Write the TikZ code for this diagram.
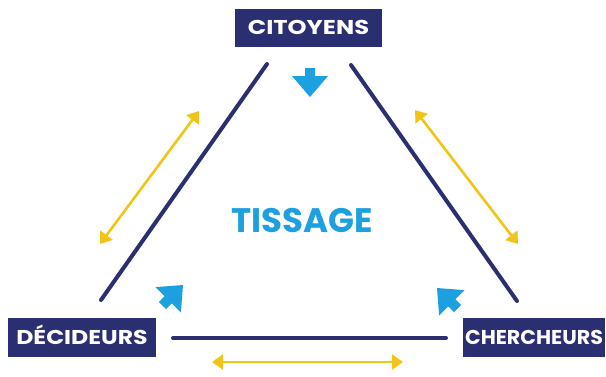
\documentclass[tikz,border=0pt]{standalone}
\usepackage{fontspec}
\setmainfont{Poppins}
\usetikzlibrary{arrows.meta}
\definecolor{navy}{HTML}{2A2F72}
\definecolor{tblue}{HTML}{1CA0E0}
\definecolor{tyellow}{HTML}{F2C417}
\begin{document}
\begin{tikzpicture}[x=1pt,y=-1pt,
  actor/.style={fill=navy, text=white, font=\bfseries\fontsize{20}{20}\selectfont,
    inner sep=0pt, text height=13.5pt, text depth=0pt, align=center},
  link/.style={navy, line width=4pt, line cap=round},
  swap/.style={tyellow, line width=2.6pt,
    {Triangle[length=11pt,width=15pt]}-{Triangle[length=11pt,width=15pt]}},
  tisarrow/.pic={\fill[tblue] (0,0) -- (-21,-18) -- (-21,-5) -- (-29,-5) -- (-29,5)
    -- (-21,5) -- (-21,18) -- cycle;}
]
\useasboundingbox[fill=white] (0,0) rectangle (606,376);
% actors
\node[actor, minimum width=147pt, minimum height=38pt] (cit) at (308.5,28) {\scalebox{1.21}[1]{CITOYENS}};
\node[actor, minimum width=148pt, minimum height=39pt] (dec) at (82,337.5) {\scalebox{1.18}[1]{DÉCIDEURS}};
\node[actor, minimum width=142pt, minimum height=39pt] (che) at (534,337.5) {\scalebox{1.03}[1]{CHERCHEURS}};
\node[tblue, font=\bfseries\fontsize{34}{34}\selectfont, anchor=base, inner sep=0pt] (tis) at (302.5,232) {TISSAGE};
% line ends
\coordinate (l1) at (267,64);
\coordinate (l2) at (101,300);
\coordinate (r1) at (351,65);
\coordinate (r2) at (517,301);
\coordinate (b1) at (173,338);
\coordinate (b2) at (446,338);
\draw[link] (l1) -- (l2);
\draw[link] (r1) -- (r2);
\draw[link] (b1) -- (b2);
% exchanges
\coordinate (yl1) at (199,111);
\coordinate (yl2) at (100,244);
\coordinate (yr1) at (415,110);
\coordinate (yr2) at (518,244);
\coordinate (yb1) at (212,362);
\coordinate (yb2) at (403,362);
\draw[swap] (yl1) -- (yl2);
\draw[swap] (yr1) -- (yr2);
\draw[swap] (yb1) -- (yb2);
% blue arrows towards tissage
\path (310,97) pic[rotate=-90] {tisarrow};
\path (183,285) pic[rotate=45] {tisarrow};
\path (437,288) pic[rotate=135] {tisarrow};
\end{tikzpicture}
\end{document}
